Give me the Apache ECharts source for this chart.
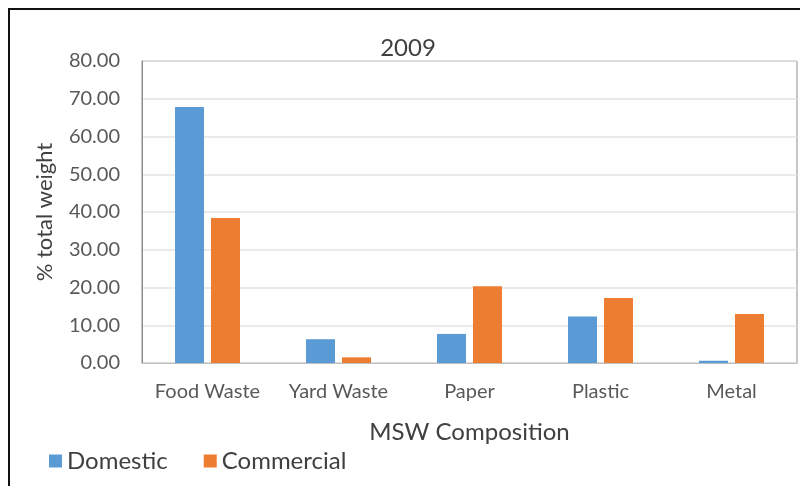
<!DOCTYPE html>
<html><head><meta charset="utf-8">
<script src="https://cdn.jsdelivr.net/npm/echarts@6/dist/echarts.min.js"></script>
<style>html,body{margin:0;padding:0;background:#fff}#c{width:800px;height:486px}</style>
</head><body><div id="c"></div>
<script>
const categories = ["Food Waste", "Yard Waste", "Paper", "Plastic", "Metal"];
const domestic = [67.8, 6.3, 7.7, 12.3, 0.6];
const commercial = [38.4, 1.5, 20.3, 17.2, 13.0];
const yTicks = [0, 10, 20, 30, 40, 50, 60, 70, 80];

const FONT = 'Lato, "Open Sans", sans-serif';
const chart = echarts.init(document.getElementById('c'));
chart.setOption({
  backgroundColor: '#fff',
  animation: false,
  textStyle: { fontFamily: FONT },
  title: { text: '2009', left: 403, top: 31, textAlign: 'center',
    textStyle: { fontFamily: FONT, fontSize: 24, fontWeight: 'normal', color: '#404040' } },
  graphic: [{ type: 'rect', shape: { x: 9, y: 9, width: 900, height: 700 },
    style: { fill: 'none', stroke: '#111', lineWidth: 2 }, silent: true }],
  legend: { left: 44, top: 444, itemWidth: 13, itemHeight: 13, itemGap: 36,
    icon: 'rect', textStyle: { fontFamily: FONT, fontSize: 24, color: '#404040' },
    data: ['Domestic', 'Commercial'] },
  grid: { left: 142, right: 3, top: 61, bottom: 123, show: true,
    borderColor: '#8c8c8c', borderWidth: 1, containLabel: false },
  xAxis: { type: 'category', data: categories,
    axisLine: { lineStyle: { color: '#bfbfbf' } }, axisTick: { show: false },
    axisLabel: { margin: 19, fontSize: 20, color: '#595959', fontFamily: FONT, interval: 0 },
    name: 'MSW Composition', nameLocation: 'middle', nameGap: 57,
    nameTextStyle: { fontSize: 24, color: '#404040', fontFamily: FONT } },
  yAxis: { type: 'value', min: yTicks[0], max: yTicks[yTicks.length - 1], interval: 10,
    axisLine: { show: true, lineStyle: { color: '#8c8c8c' } }, axisTick: { show: false },
    splitLine: { lineStyle: { color: '#e3e3e3', width: 1.5 } },
    axisLabel: { margin: 22, fontSize: 20, color: '#595959', fontFamily: FONT,
      formatter: v => v.toFixed(2) },
    name: '% total weight', nameLocation: 'middle', nameGap: 86, nameRotate: 90,
    nameTextStyle: { fontSize: 22, color: '#404040', fontFamily: FONT } },
  series: [
    { name: 'Domestic', type: 'bar', data: domestic, barWidth: 29, barGap: '24%',
      itemStyle: { color: '#5B9BD5' } },
    { name: 'Commercial', type: 'bar', data: commercial, barWidth: 29,
      itemStyle: { color: '#ED7D31' } }
  ]
});
</script></body></html>
